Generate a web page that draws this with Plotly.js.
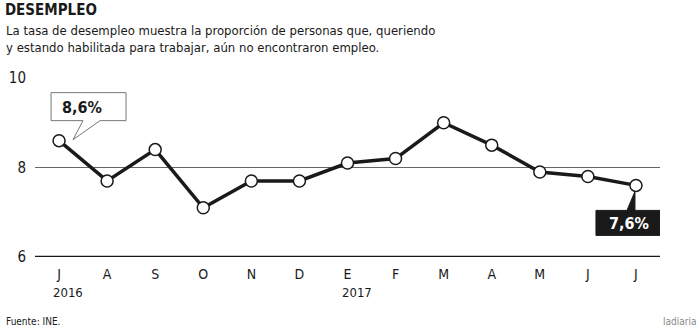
<!DOCTYPE html>
<html>
<head>
<meta charset="utf-8">
<script src="https://cdn.plot.ly/plotly-3.0.1.min.js"></script>
<style>html,body{margin:0;padding:0;background:#fff;}#chart{width:700px;height:332px;}</style>
</head>
<body>
<div id="chart"></div>
<script>
const months = ["J","A","S","O","N","D","E","F","M","A","M","J","J"];
const rates = [8.6, 7.7, 8.4, 7.1, 7.7, 7.7, 8.1, 8.2, 9.0, 8.5, 7.9, 7.8, 7.6];
const yearLabels = ["2016", "2017"];
const yearIndex = [0, 6];
const yTicks = [6, 8, 10];

const FONT = "'DejaVu Sans Condensed', 'DejaVu Sans', sans-serif";
const xIdx = months.map((m, i) => i);
const first = 0, last = rates.length - 1;
const fmt = v => v.toFixed(1).replace('.', ',') + '%';

const trace = {
  x: xIdx, y: rates, type: 'scatter', mode: 'lines+markers',
  line: {color: '#1a1a1a', width: 3.5},
  marker: {size: 12, color: '#fff', line: {color: '#1a1a1a', width: 1.5}},
  cliponaxis: false, hoverinfo: 'none'
};

const annotations = [
  {xref: 'paper', yref: 'paper', x: -0.05, y: 1.218, xanchor: 'left', yanchor: 'middle',
   text: 'La tasa de desempleo muestra la proporción de personas que, queriendo<br>y estando habilitada para trabajar, aún no encontraron empleo.',
   showarrow: false, align: 'left', font: {family: FONT, size: 13, color: '#1a1a1a'}},
  {xref: 'paper', yref: 'paper', x: -0.05, y: -0.363, xanchor: 'left', yanchor: 'middle',
   text: 'Fuente: INE.', showarrow: false, font: {family: FONT, size: 10, color: '#1a1a1a'}},
  {xref: 'paper', yref: 'paper', x: 1.06, y: -0.363, xanchor: 'right', yanchor: 'middle',
   text: 'ladiaria', showarrow: false, font: {family: FONT, size: 10, color: '#888'}},
  {x: first, y: rates[first], xref: 'x', yref: 'y', text: '<b>' + fmt(rates[first]) + '</b>',
   showarrow: false, xshift: 23, yshift: 33, font: {family: FONT, size: 16, color: '#1a1a1a'}},
  {x: last, y: rates[last], xref: 'x', yref: 'y', text: '<b>' + fmt(rates[last]) + '</b>',
   showarrow: false, xshift: -7, yshift: -38, font: {family: FONT, size: 16, color: '#fff'}}
];
yearLabels.forEach((t, k) => annotations.push({
  x: yearIndex[k], y: 0, xref: 'x', yref: 'paper', yanchor: 'middle', xanchor: 'left',
  xshift: -8, yshift: -35, text: t, showarrow: false,
  font: {family: FONT, size: 13, color: '#1a1a1a'}
}));

const shapes = [
  {type: 'path', xref: 'x', yref: 'y', xsizemode: 'pixel', ysizemode: 'pixel',
   xanchor: first, yanchor: rates[first],
   path: 'M -8,20 L 24,20 L 14,1 L 41,20 L 67,20 L 67,48 L -8,48 Z',
   line: {color: '#777', width: 1}, fillcolor: '#fff', layer: 'above'},
  {type: 'path', xref: 'x', yref: 'y', xsizemode: 'pixel', ysizemode: 'pixel',
   xanchor: last, yanchor: rates[last],
   path: 'M -40,-25 L -9,-25 L -1,-6 L -1,-25 L 26,-25 L 26,-50 L -40,-50 Z',
   line: {color: '#1a1a1a', width: 1}, fillcolor: '#1a1a1a', layer: 'above'}
];

const layout = {
  width: 700, height: 332,
  margin: {l: 35, r: 40, t: 78, b: 75},
  paper_bgcolor: '#fff', plot_bgcolor: '#fff',
  showlegend: false,
  title: {text: '<b>DESEMPLEO</b>', xref: 'container', yref: 'container', x: 0.007, y: 0.985,
          xanchor: 'left', yanchor: 'top', font: {family: FONT, size: 15, color: '#1a1a1a'}},
  xaxis: {range: [-0.5, 12.5], tickvals: xIdx, ticktext: months, showgrid: false, zeroline: false,
          showline: false, ticks: 'outside', ticklen: 4, tickcolor: 'rgba(0,0,0,0)',
          tickfont: {family: FONT, size: 14, color: '#1a1a1a'}, fixedrange: true},
  yaxis: {range: [6, 10], tickvals: yTicks, ticktext: yTicks.map(String), showgrid: true,
          gridcolor: '#666', gridwidth: 1, zeroline: false, showline: false,
          ticks: 'outside', ticklen: 5, tickcolor: 'rgba(0,0,0,0)',
          tickfont: {family: FONT, size: 15, color: '#1a1a1a'}, fixedrange: true},
  shapes: shapes.concat([
    {type: 'line', xref: 'paper', yref: 'y', x0: 0, x1: 1, y0: yTicks[0], y1: yTicks[0],
     line: {color: '#1a1a1a', width: 2.5}, layer: 'below'}
  ]),
  annotations: annotations
};

Plotly.newPlot('chart', [trace], layout, {displayModeBar: false, staticPlot: true});
</script>
</body>
</html>
